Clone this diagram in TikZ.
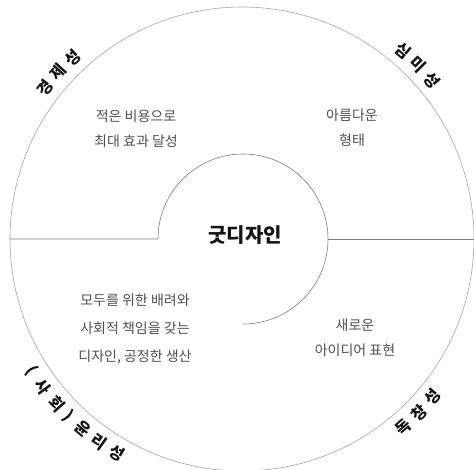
\documentclass[tikz,border=0pt]{standalone}
\usepackage{fontspec}
\setmainfont{Noto Sans CJK KR}
\usepackage{tikz}
\usetikzlibrary{calc}
\definecolor{blackmain}{HTML}{141414}
\definecolor{graytext}{HTML}{505050}
\definecolor{grayline}{HTML}{7E7E7E}
\definecolor{graylight}{HTML}{A6A6A6}
\tikzset{every node/.append style={font=\rmfamily}}
\tikzset{
  ringlbl/.style={blackmain,font=\bfseries\fontsize{16}{16}\selectfont,inner sep=0pt},
  partxt/.style={graytext,align=center,font=\fontsize{14}{25}\selectfont},
}

\begin{document}
\begin{tikzpicture}[x=1pt,y=1pt]
  \useasboundingbox (0,0) rectangle (474,469);
  \coordinate (O) at (242,230);
  \coordinate (C) at (243,230);
  \coordinate (Lout) at ($(O)+(180:232)$);
  \coordinate (Rout) at ($(O)+(0:232)$);
  \coordinate (Lin) at ($(C)+(180:85)$);
  \coordinate (Rin) at ($(C)+(0:85)$);
  \draw[graylight,line width=.6pt] (O) circle (232);
  \draw[grayline,line width=.6pt] (Lout) -- (Lin)
    arc[start angle=180,end angle=-90,radius=85];
  \draw[grayline,line width=.6pt] (Rin) -- (Rout);
  \foreach \ang/\ch [count=\i] in {142.6/{경},137.8/{제},133/{성}}
    \node[ringlbl,rotate=\ang-90] (tl\i) at ($(O)+(\ang:248)$) {\ch};
  \foreach \ang/\ch [count=\i] in {49.5/{심},44.7/{미},39.9/{성}}
    \node[ringlbl,rotate=\ang-90] (tr\i) at ($(O)+(\ang:248)$) {\ch};
  \foreach \ang/\ch [count=\i] in {-49.3/{독},-44.5/{창},-39.7/{성}}
    \node[ringlbl,rotate=\ang+90] (br\i) at ($(O)+(\ang:248)$) {\ch};
  \foreach \ang/\ch [count=\i] in {-148/{(},-143.4/{사},-138.4/{회},-134.4/{)},-130/{윤},-125.1/{리},-120.2/{성}}
    \node[ringlbl,rotate=\ang+90] (bl\i) at ($(O)+(\ang:248)$) {\ch};
  \node[blackmain,font=\bfseries\fontsize{20}{20}\selectfont] (mid) at (245,234) {굿디자인};
  \node[partxt] (tlt) at (136,340) {적은 비용으로\\최대 효과 달성};
  \node[partxt] (trt) at (352,341) {아름다운\\형태};
  \node[partxt,font=\fontsize{14}{28}\selectfont] (blt) at (135,140)
    {모두를 위한 배려와\\사회적 책임을 갖는\\디자인, 공정한 생산};
  \node[partxt] (brt) at (355,131) {새로운\\아이디어 표현};
\end{tikzpicture}
\end{document}
